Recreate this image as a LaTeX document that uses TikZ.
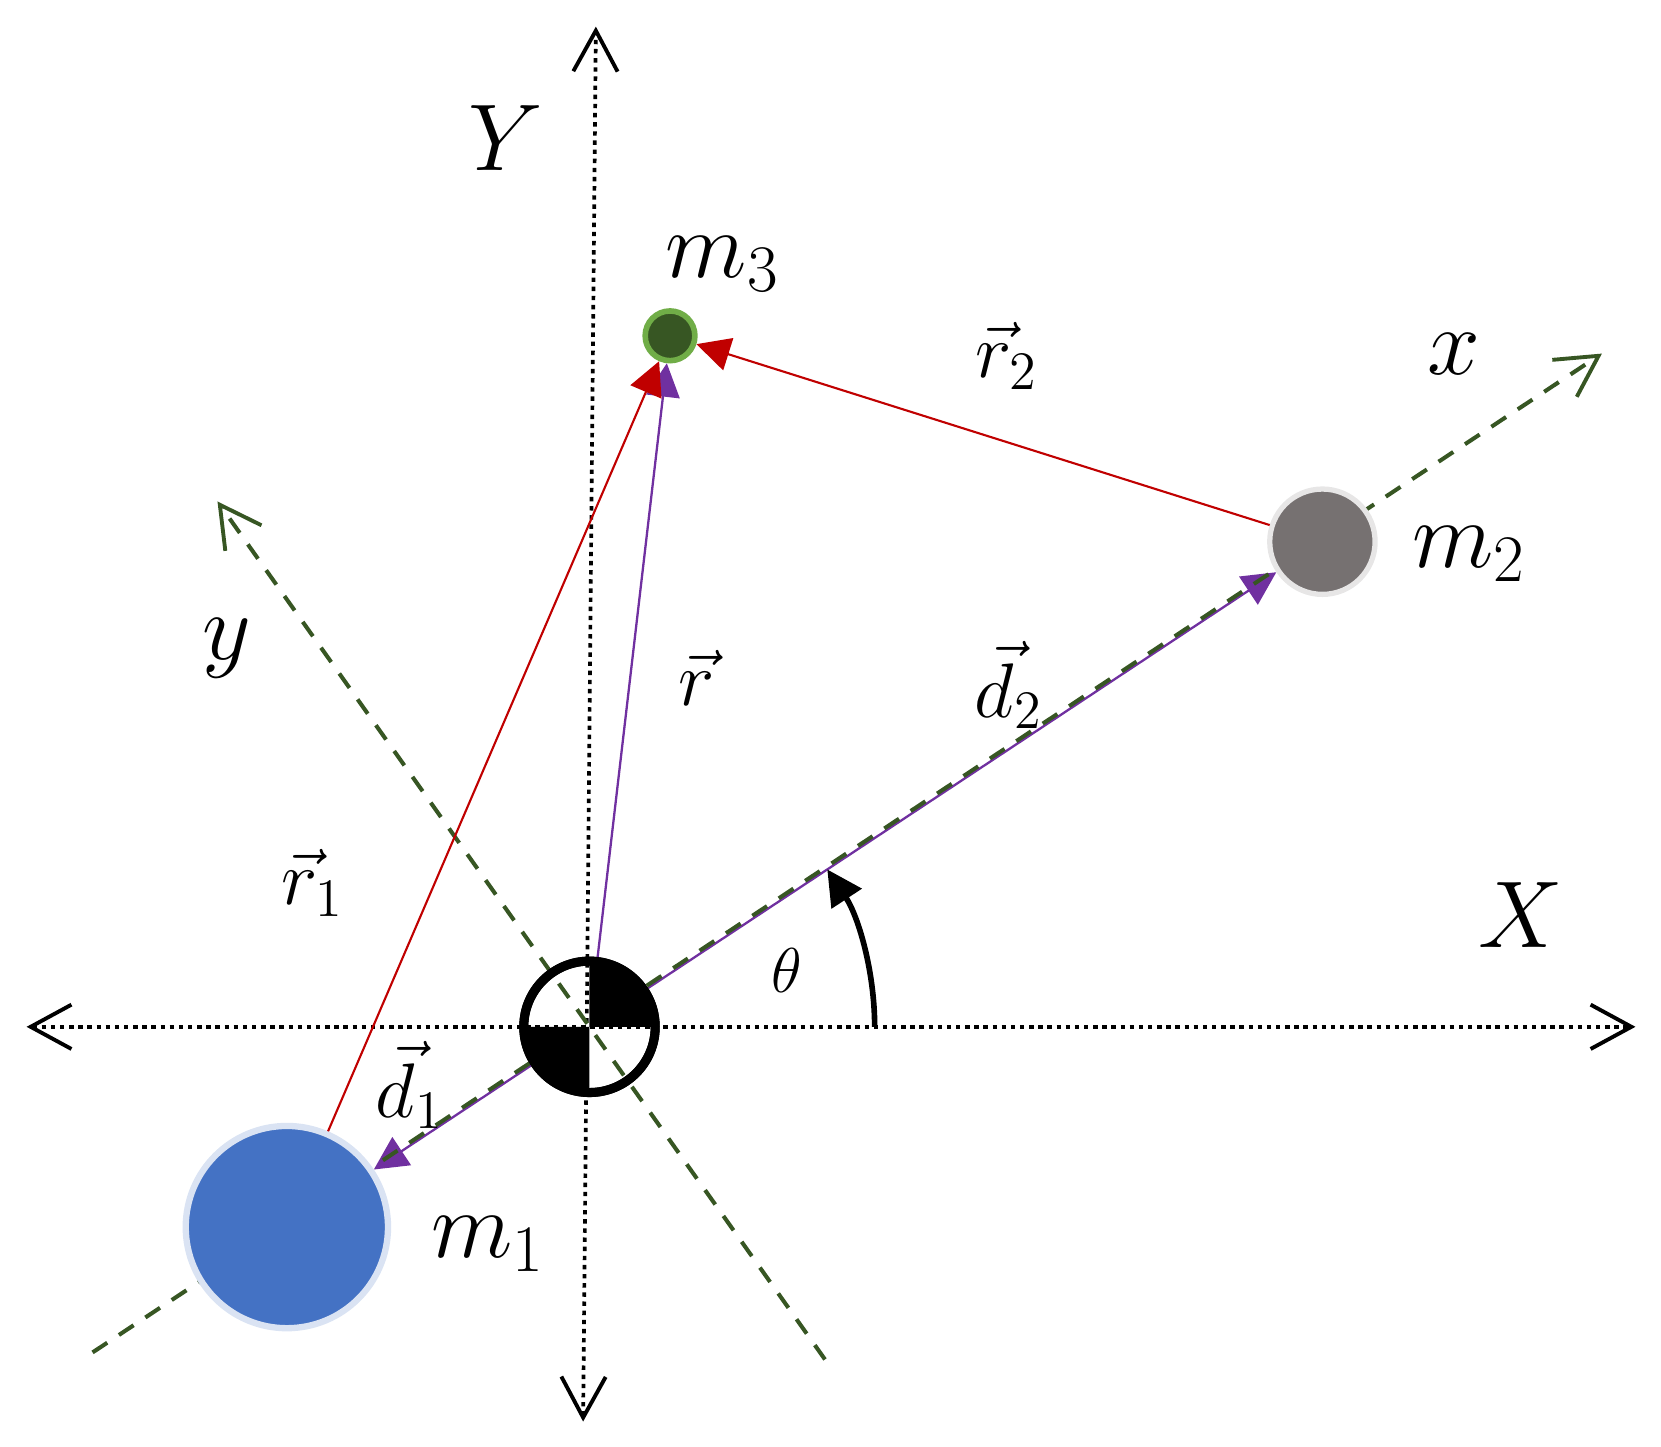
\RequirePackage{fix-cm}
\documentclass[tikz,border=0pt]{standalone}
\usetikzlibrary{arrows.meta}
\definecolor{axgreen}{HTML}{375623}
\definecolor{lightgreen}{HTML}{70AD47}
\definecolor{vecred}{HTML}{C00000}
\definecolor{vecpurple}{HTML}{7030A0}
\definecolor{massblue}{HTML}{4472C4}
\definecolor{massblueedge}{HTML}{DAE3F3}
\definecolor{massgray}{HTML}{767171}
\definecolor{massgrayedge}{HTML}{E7E6E6}
\pgfdeclarelayer{bottomlayer}
\pgfdeclarelayer{midlayer}
\pgfsetlayers{bottomlayer,midlayer,main}
\tikzset{
  axtip/.tip={Straight Barb[length=11.6pt,width=12.6pt,line width=1.1pt]},
  vtip/.tip={Triangle[length=9.5pt,width=9.5pt]},
  thtip/.tip={Triangle[length=10pt,width=10pt]},
  dotaxis/.style={black,line width=1.05pt,dash pattern=on 1.25pt off 1.35pt,arrows={axtip-axtip}},
  bodyaxis/.style={axgreen,line width=1.15pt,dash pattern=on 5pt off 4pt,arrows={-axtip}},
  redvec/.style={vecred,line width=0.6pt,arrows={-vtip}},
  purplevec/.style={vecpurple,line width=0.65pt,arrows={-vtip}},
  thetaarrow/.style={black,line width=1.6pt,arrows={-thtip}},
  mass/.style={circle,inner sep=0pt},
  biglabel/.style={inner sep=0pt,font=\fontsize{27}{32}\selectfont},
  veclabel/.style={inner sep=0pt,font=\fontsize{22}{26}\selectfont},
  anglabel/.style={inner sep=0pt,font=\fontsize{18}{22}\selectfont},
}
\begin{document}
\begin{tikzpicture}[x=0.01064cm,y=-0.01064cm]
\useasboundingbox (0,0) rectangle (1561,1359);
% coordinates
\coordinate (c0) at (554,965);
\coordinate (Xl) at (25,965);
\coordinate (Xr) at (1537,965);
\coordinate (Yt) at (560,25);
\coordinate (Yb) at (548,1336);
\coordinate (xt) at (1505.5,332.3);
\coordinate (xb) at (87,1271);
\coordinate (yt) at (204.4,471.3);
\coordinate (yb) at (775.3,1277.6);
\coordinate (th0) at (822,965);
% inertial axes
\begin{pgfonlayer}{bottomlayer}
\draw[dotaxis] (Xl) -- (Xr);
\draw[dotaxis] (Yb) -- (Yt);
\end{pgfonlayer}
% body axes
\begin{pgfonlayer}{midlayer}
\draw[bodyaxis] (xb) -- (xt);
\draw[bodyaxis] (yb) -- (yt);
\end{pgfonlayer}
% angle
\draw[thetaarrow] (th0) arc[start angle=0,end angle=-33.5,radius=268];
% masses
\node[mass,fill=massblue,draw=massblueedge,line width=1.8pt,minimum size=2.0216cm] (m1) at (269.6,1153.2) {};
\node[mass,fill=massgray,draw=massgrayedge,line width=1.5pt,minimum size=1.053cm] (m2) at (1242.8,509.1) {};
\node[mass,fill=axgreen,draw=lightgreen,line width=1.6pt,minimum size=0.497cm] (m3) at (629.7,315.6) {};
\node[mass,draw=black,line width=2.57pt,minimum size=1.314cm] (com) at (c0) {};
% vectors
\begin{pgfonlayer}{bottomlayer}
\draw[purplevec] (com) -- (m1);
\draw[purplevec] (com) -- (m2);
\end{pgfonlayer}
\draw[purplevec] (com) -- (m3);
\draw[redvec] (m1) -- (m3);
\draw[redvec] (m2) -- (m3);
% centre of mass symbol
\fill[black] (c0) -- ++(62,0) arc[start angle=0,end angle=-90,radius=62] -- cycle;
\fill[black] (c0) -- ++(-62,0) arc[start angle=180,end angle=90,radius=62] -- cycle;
\draw[black,line width=2.57pt] (com.center) circle[radius=61.75];
% labels
\node[biglabel] (lY) at (475,130) {$Y$};
\node[biglabel] (lX) at (1429,860) {$X$};
\node[biglabel] (lx) at (1366,333) {$x$};
\node[biglabel] (ly) at (213.5,609.6) {$y$};
\node[biglabel] (lm3) at (679,248) {$m_3$};
\node[biglabel] (lm2) at (1380.6,520.8) {$m_2$};
\node[biglabel] (lm1) at (459,1169) {$m_1$};
\node[veclabel] (lr2) at (946.4,334.3) {$\vec{r}_2$};
\node[veclabel] (lr) at (654.7,636.7) {$\vec{r}$};
\node[veclabel] (ld2) at (948,643.8) {$\vec{d}_2$};
\node[veclabel] (lr1) at (294,830) {$\vec{r}_1$};
\node[veclabel] (ld1) at (385,1020) {$\vec{d}_1$};
\node[anglabel] (lth) at (739.8,911.7) {$\theta$};
\end{tikzpicture}
\end{document}
